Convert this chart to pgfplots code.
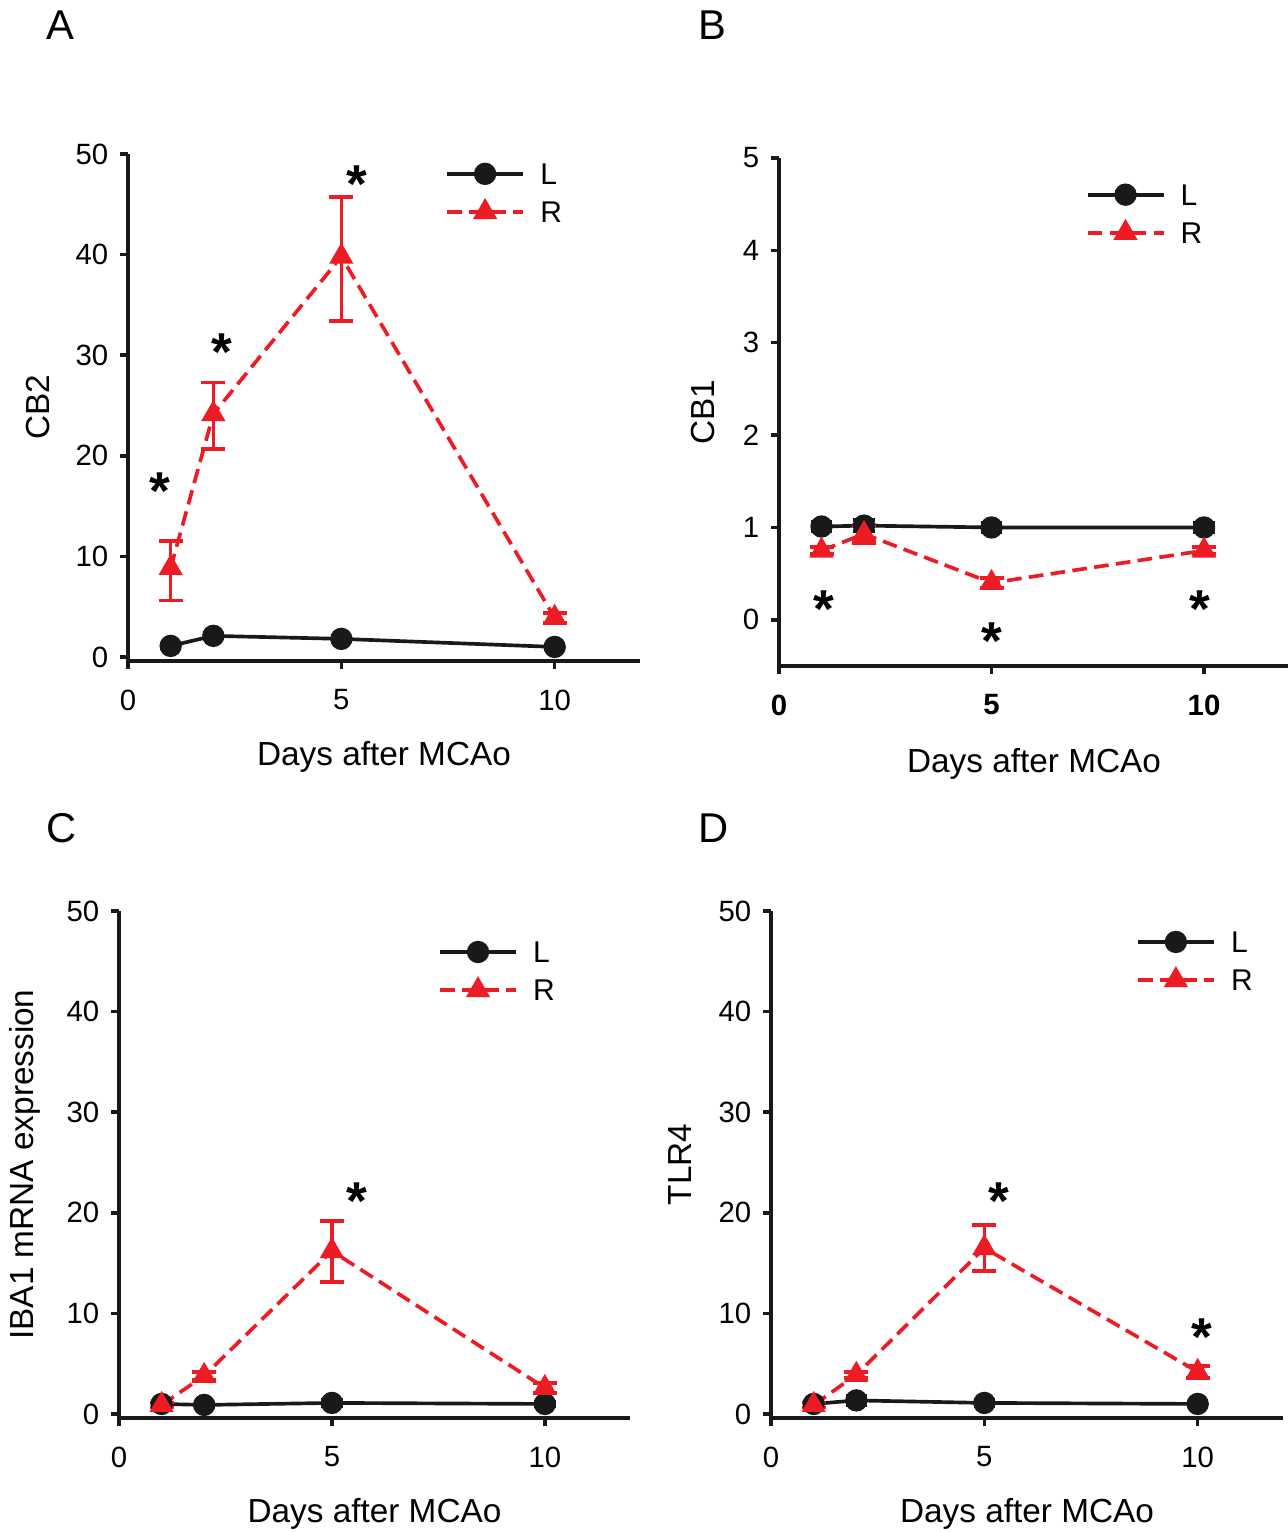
\documentclass[border=0pt]{standalone}
\usepackage{fontspec}
\setmainfont{Liberation Sans}
\usepackage{pgfplots}
\pgfplotsset{compat=1.18}
\definecolor{myred}{RGB}{237,28,36}
\definecolor{myblack}{RGB}{25,25,25}
\pgfplotsset{
  panel/.style={
    scale only axis,
    axis lines=left,
    axis line style={-, line width=1.05pt, myblack},
    every tick/.style={line width=1.05pt, myblack},
    major tick length=2.4pt,
    tick align=outside,
    xmin=0, xmax=12,
    xtick={0,5,10},
    /pgf/number format/assume math mode=true,
    tick label style={font=\fontsize{8.8}{10}\selectfont},
    xticklabel style={yshift=-2.7pt},
    label style={font=\fontsize{10}{12}\selectfont},
    xlabel={Days after MCAo},
    clip=false,
    legend cell align=left,
    legend style={draw=none, fill=none, anchor=north west, inner sep=0pt,
      font=\fontsize{9}{11}\selectfont, row sep=3.7pt,
      nodes={inner sep=0pt},
      /tikz/every odd column/.append style={column sep=4.6pt}},
    legend image code/.code={\draw[mark repeat=2,mark phase=2,#1] plot coordinates {(0pt,0.8pt) (11.4pt,0.8pt) (22.8pt,0.8pt)};},
  },
  Lser/.style={myblack, line width=1.1pt, solid, mark=*, mark size=2.8pt,
    mark options={solid, fill=myblack},
    error bars/.cd, y dir=both, y explicit,
    error bar style={line width=1.1pt, solid, myblack},
    error mark options={rotate=90, mark size=3.2pt, line width=1.1pt, myblack}},
  Rser/.style={myred, line width=1.1pt, dash pattern=on 4.4pt off 2.2pt, mark=triangle*, mark size=3.1pt,
    mark options={solid, fill=myred},
    error bars/.cd, y dir=both, y explicit,
    error bar style={line width=1.1pt, solid, myred},
    error mark options={rotate=90, mark size=3.6pt, line width=1.1pt, myred}},
}
\newcommand{\sig}[2]{\node[font=\fontsize{16}{18}\selectfont\bfseries, anchor=center, yshift=-3.5pt] at (axis cs:#1,#2) {*};}
\begin{document}
\begin{tikzpicture}
\useasboundingbox (0,0) rectangle (386.1pt,-459.6pt);
\node[font=\fontsize{12.5}{14}\selectfont] at (18pt,-7.5pt) {A};
\node[font=\fontsize{12.5}{14}\selectfont] at (213.6pt,-7.5pt) {B};
\node[font=\fontsize{12.5}{14}\selectfont] at (18.6pt,-248.4pt) {C};
\node[font=\fontsize{12.5}{14}\selectfont] at (214.2pt,-248.4pt) {D};

% Panel A
\begin{axis}[panel, at={(38.4pt,-198.3pt)}, anchor=south west,
  width=153.6pt, height=152.1pt, ymin=-0.4, ymax=50, ytick={0,10,...,50},
  ylabel={CB2},
  every axis y label/.style={at={(axis description cs:-0.176,0.5)}, rotate=90, anchor=center},
  every axis x label/.style={at={(axis description cs:0.5,-0.189)}, anchor=center},
  legend style={at={(axis cs:7.42,49.1)}}]
\addplot+[Lser] coordinates {(1,1.1) +- (0,0.25) (2,2.1) +- (0,0.25) (5,1.8) +- (0,0.25) (10,1.0) +- (0,0.25)};
\addlegendentry{L}
\addplot+[Rser] coordinates {(1,8.85) += (0,2.65) -= (0,3.25) (2,24.15) += (0,3.15) -= (0,3.45) (5,39.8) += (0,5.9) -= (0,6.4) (10,3.9) += (0,0.5) -= (0,0.5)};
\addlegendentry{R}
\sig{0.75}{17.6}
\sig{2.2}{31.5}
\sig{5.36}{48.2}
\end{axis}

% Panel B
\begin{axis}[panel, at={(233.7pt,-199.8pt)}, anchor=south west,
  width=153pt, height=152.4pt, ymin=-0.5, ymax=5, ytick={0,1,...,5},
  ylabel={CB1},
  xticklabel style={font=\fontsize{8.8}{10}\selectfont\bfseries},
  every axis y label/.style={at={(axis description cs:-0.149,0.5)}, rotate=90, anchor=center},
  every axis x label/.style={at={(axis description cs:0.5,-0.193)}, anchor=center},
  legend style={at={(axis cs:7.2,4.72)}}]
\addplot+[Lser] coordinates {(1,1.01) +- (0,0.05) (2,1.02) +- (0,0.06) (5,1.0) +- (0,0.05) (10,1.0) +- (0,0.05)};
\addlegendentry{L}
\addplot+[Rser] coordinates {(1,0.75) +- (0,0.04) (2,0.93) +- (0,0.1) (5,0.40) +- (0,0.05) (10,0.75) +- (0,0.04)};
\addlegendentry{R}
\sig{1.05}{0.24}
\sig{5.0}{-0.11}
\sig{9.9}{0.24}
\end{axis}

% Panel C
\begin{axis}[panel, at={(35.7pt,-425.4pt)}, anchor=south west,
  width=153.3pt, height=152.1pt, ymin=-0.4, ymax=50, ytick={0,10,...,50},
  ylabel={IBA1 mRNA expression},
  every axis y label/.style={at={(axis description cs:-0.184,0.5)}, rotate=90, anchor=center},
  every axis x label/.style={at={(axis description cs:0.5,-0.189)}, anchor=center},
  legend style={at={(axis cs:7.48,47.0)}}]
\addplot+[Lser] coordinates {(1,1.0) +- (0,0.25) (2,0.9) +- (0,0.25) (5,1.1) +- (0,0.3) (10,1.0) +- (0,0.25)};
\addlegendentry{L}
\addplot+[Rser] coordinates {(1,0.9) +- (0,0.25) (2,3.8) +- (0,0.4) (5,16.2) += (0,3.0) -= (0,3.1) (10,2.6) +- (0,0.5)};
\addlegendentry{R}
\sig{5.58}{22.3}
\end{axis}

% Panel D
\begin{axis}[panel, at={(231.3pt,-425.4pt)}, anchor=south west,
  width=153.6pt, height=152.1pt, ymin=-0.4, ymax=50, ytick={0,10,...,50},
  ylabel={TLR4},
  every axis y label/.style={at={(axis description cs:-0.178,0.5)}, rotate=90, anchor=center},
  every axis x label/.style={at={(axis description cs:0.5,-0.189)}, anchor=center},
  legend style={at={(axis cs:8.54,48.0)}}]
\addplot+[Lser] coordinates {(1,1.0) +- (0,0.25) (2,1.35) +- (0,0.5) (5,1.1) +- (0,0.3) (10,1.0) +- (0,0.25)};
\addlegendentry{L}
\addplot+[Rser] coordinates {(1,0.9) +- (0,0.25) (2,3.9) +- (0,0.3) (5,16.5) += (0,2.3) -= (0,2.3) (10,4.2) +- (0,0.6)};
\addlegendentry{R}
\sig{5.35}{22.3}
\sig{10.1}{8.8}
\end{axis}
\end{tikzpicture}
\end{document}
